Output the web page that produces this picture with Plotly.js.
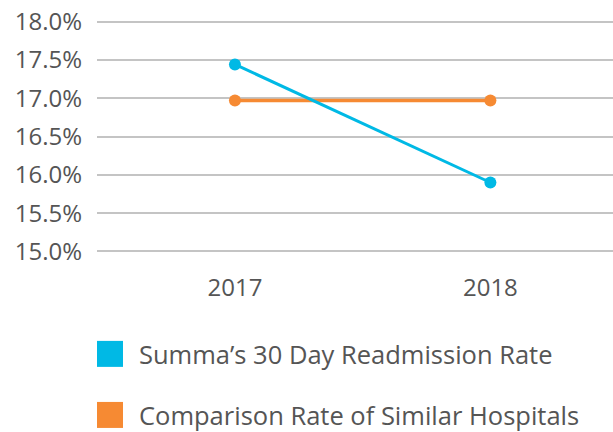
<!DOCTYPE html>
<html>
<head>
<meta charset="utf-8">
<script src="https://cdn.plot.ly/plotly-3.0.1.min.js"></script>
<style>html,body{margin:0;padding:0;background:#fff;}#chart{width:613px;height:432px;}</style>
</head>
<body>
<div id="chart"></div>
<script>
var years = ['2017', '2018'];
var summaRate = [17.44, 15.90];
var comparisonRate = [16.97, 16.97];
var seriesNames = ['Summa\u2019s 30 Day Readmission Rate', 'Comparison Rate of Similar Hospitals'];
var seriesColors = ['#00b9e5', '#f68a33'];
var yTicks = [15.0, 15.5, 16.0, 16.5, 17.0, 17.5, 18.0];
var yTickLabels = ['15.0%', '15.5%', '16.0%', '16.5%', '17.0%', '17.5%', '18.0%'];

var FONT = '"Open Sans", Lato, sans-serif';
var TEXT_COLOR = '#555555';

var traces = [
  {
    x: years, y: comparisonRate, type: 'scatter', mode: 'lines+markers',
    name: seriesNames[1], showlegend: false,
    line: {color: seriesColors[1], width: 3.5},
    marker: {color: seriesColors[1], size: 12},
    hoverinfo: 'skip'
  },
  {
    x: years, y: summaRate, type: 'scatter', mode: 'lines+markers',
    name: seriesNames[0], showlegend: false,
    line: {color: seriesColors[0], width: 3},
    marker: {color: seriesColors[0], size: 12},
    hoverinfo: 'skip'
  }
];

// legend built from the series names and colours
var legendRowsY = [-0.433, -0.695];
var shapes = [];
var annotations = [];
for (var i = 0; i < seriesNames.length; i++) {
  var yc = legendRowsY[i];
  var half = 13 / 233;
  shapes.push({
    type: 'rect', xref: 'paper', yref: 'paper',
    x0: 0.0, x1: 26 / 516, y0: yc - half, y1: yc + half,
    fillcolor: seriesColors[i], line: {width: 0}
  });
  annotations.push({
    xref: 'paper', yref: 'paper', x: 40 / 516, y: yc,
    xanchor: 'left', yanchor: 'middle', showarrow: false,
    text: seriesNames[i],
    font: {family: FONT, size: 25.5, color: TEXT_COLOR}
  });
}

var layout = {
  width: 613, height: 432,
  margin: {l: 97, r: 0, t: 20, b: 179, pad: 0},
  paper_bgcolor: '#ffffff', plot_bgcolor: '#ffffff',
  showlegend: false,
  font: {family: FONT, size: 24, color: TEXT_COLOR},
  xaxis: {
    type: 'category', range: [-0.54, 1.48],
    showgrid: false, zeroline: false, showline: false, ticks: '',
    ticklabelstandoff: 18,
    tickfont: {family: FONT, size: 24, color: TEXT_COLOR},
    fixedrange: true
  },
  yaxis: {
    range: [14.98, 18.02],
    tickvals: yTicks, ticktext: yTickLabels,
    showgrid: true, gridcolor: '#c4c4c4', gridwidth: 2,
    zeroline: false, showline: false, ticks: '',
    ticklabelstandoff: 14,
    tickfont: {family: FONT, size: 24, color: TEXT_COLOR},
    fixedrange: true
  },
  shapes: shapes,
  annotations: annotations
};

Plotly.newPlot('chart', traces, layout, {staticPlot: true, displayModeBar: false});
</script>
</body>
</html>
